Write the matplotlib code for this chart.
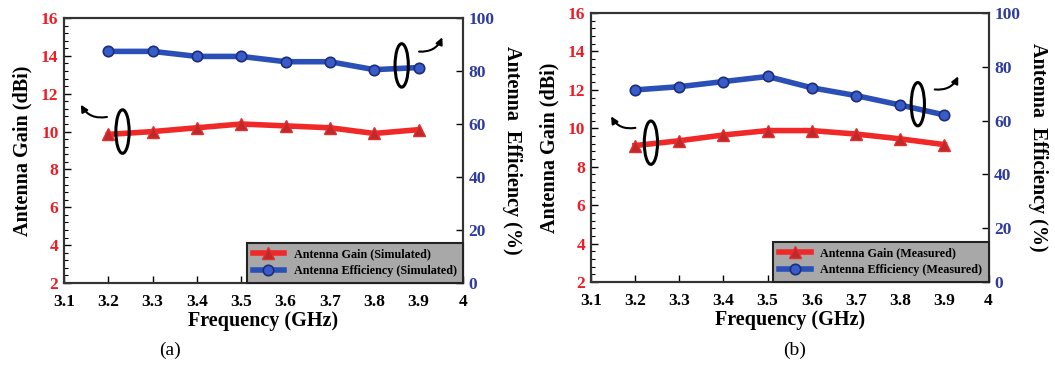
import numpy as np
import matplotlib
matplotlib.use("Agg")
import matplotlib.pyplot as plt
from matplotlib.patches import Ellipse
from matplotlib.ticker import AutoMinorLocator

# frequency points (GHz)
freq = [3.2, 3.3, 3.4, 3.5, 3.6, 3.7, 3.8, 3.9]

# (a) simulated
gainSim = [9.85, 10.0, 10.2, 10.4, 10.3, 10.2, 9.9, 10.1]
effSim = [87.4, 87.4, 85.5, 85.5, 83.5, 83.5, 80.5, 81.3]

# (b) measured
gainMeas = [9.1, 9.35, 9.65, 9.88, 9.88, 9.7, 9.45, 9.15]
effMeas = [71.4, 72.6, 74.5, 76.4, 72.2, 69.3, 65.8, 62.1]

xTicks = [3.1, 3.2, 3.3, 3.4, 3.5, 3.6, 3.7, 3.8, 3.9, 4.0]
xTickLabels = ["3.1", "3.2", "3.3", "3.4", "3.5", "3.6", "3.7", "3.8", "3.9", "4"]
gainTicks = [2, 4, 6, 8, 10, 12, 14, 16]
effTicks = [0, 20, 40, 60, 80, 100]

red = "#f02828"
blue = "#2a50b8"
redTick = "#ee1c24"
blueTick = "#2e3c9e"

plt.rcParams['font.family'] = ['Liberation Serif', 'DejaVu Serif']
plt.rcParams['font.weight'] = 'bold'

fig = plt.figure(figsize=(10.55, 3.65), dpi=100)
axA = fig.add_axes([0.0607, 0.2247, 0.378, 0.726])
axB = fig.add_axes([0.560, 0.2274, 0.377, 0.737])


def drawPanel(ax, gain, eff, tag, ovals):
    ax2 = ax.twinx()
    l1, = ax.plot(freq, gain, color=red, lw=4, marker="^", ms=8,
                  mfc="#c0282a", mec="#e03030", zorder=3,
                  label="Antenna Gain (%s)" % tag)
    l2, = ax2.plot(freq, eff, color=blue, lw=4, marker="o", ms=7.5,
                   mfc="#3a5cc8", mec="#1c2d7a", mew=1.2, zorder=3,
                   label="Antenna Efficiency (%s)" % tag)
    ax.set_xlim(3.1, 4.0)
    ax.set_ylim(2, 16)
    ax2.set_ylim(0, 100)
    ax.set_xticks(xTicks)
    ax.set_xticklabels(xTickLabels, fontsize=12.5, fontweight="bold")
    ax.set_yticks(gainTicks)
    ax.set_yticklabels([str(t) for t in gainTicks], fontsize=12.5,
                       fontweight="bold", color=redTick)
    ax2.set_yticks(effTicks)
    ax2.set_yticklabels([str(t) for t in effTicks], fontsize=12.5,
                        fontweight="bold", color=blueTick)
    ax.yaxis.set_minor_locator(AutoMinorLocator(5))
    ax.tick_params(direction="in", length=5, width=1, pad=4)
    ax.tick_params(axis="x", pad=8)
    ax.tick_params(which="minor", direction="in", length=3, width=0.8)
    ax2.tick_params(direction="in", length=5, width=1, pad=4)
    for a in (ax, ax2):
        for s in a.spines.values():
            s.set_linewidth(1.5)
            s.set_color("#333333")
    ax.set_xlabel("Frequency (GHz)", fontsize=14.5, fontweight="bold", labelpad=1)
    ax.set_ylabel("Antenna Gain (dBi)", fontsize=14.5, fontweight="bold", labelpad=6)
    ax2.set_ylabel("Antenna  Efficiency (%)", fontsize=14.5, fontweight="bold",
                   rotation=270, labelpad=20)
    leg = ax2.legend(handles=[l1, l2], loc="lower right", borderaxespad=0,
                     fancybox=False, framealpha=1, facecolor="#a8a8a8",
                     edgecolor="#222222", prop={"size": 8.7, "weight": "bold"},
                     handlelength=2.6, borderpad=0.5, labelspacing=0.35)
    leg.get_frame().set_linewidth(1.5)

    # ovals and curly arrows marking which axis each curve belongs to
    (gx, gy, gh, gtail, ghead), (ex, ey, eh, etail, ehead) = ovals
    ax.add_patch(Ellipse((gx, gy), 0.03, gh, fill=False, lw=2.2, color="black", zorder=4))
    ax.annotate("", xy=ghead, xytext=gtail,
                arrowprops=dict(arrowstyle="-|>", color="black", lw=1.5,
                                connectionstyle="arc3,rad=-0.4"))
    ax2.add_patch(Ellipse((ex, ey), 0.03, eh, fill=False, lw=2.2, color="black", zorder=4))
    ax2.annotate("", xy=ehead, xytext=etail,
                 arrowprops=dict(arrowstyle="-|>", color="black", lw=1.5,
                                 connectionstyle="arc3,rad=0.4"))
    return ax2


drawPanel(axA, gainSim, effSim, "Simulated",
          [(3.232, 10.0, 2.3, (3.203, 10.8), (3.135, 11.55)),
           (3.862, 82.1, 16.4, (3.895, 87.4), (3.956, 93.7))])
drawPanel(axB, gainMeas, effMeas, "Measured",
          [(3.236, 9.25, 2.26, (3.207, 10.05), (3.143, 10.75)),
           (3.84, 66.1, 16.1, (3.872, 71.7), (3.934, 77.4))])

fig.text(170 / 1055, 1 - 350 / 365, "(a)", fontsize=14, fontweight="normal",
         ha="center", va="center")
fig.text(795 / 1055, 1 - 350 / 365, "(b)", fontsize=14, fontweight="normal",
         ha="center", va="center")

fig.savefig("out.png", dpi=100)
